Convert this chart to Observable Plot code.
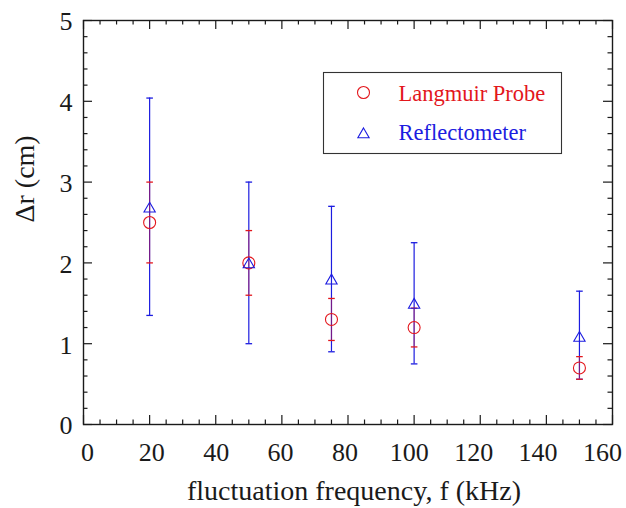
<!DOCTYPE html>
<html><head><meta charset="utf-8">
<script src="https://cdn.jsdelivr.net/npm/d3@7"></script>
<script src="https://cdn.jsdelivr.net/npm/@observablehq/plot@0.6"></script>
<style>body{margin:0;background:#fff} #chart{width:626px;height:508px}</style>
</head><body><div id="chart"></div>
<script>
// Data
const freq   = [20, 50, 75, 100, 150];          // kHz
const lpVal  = [2.50, 2.00, 1.30, 1.20, 0.70];  // Langmuir Probe Δr (cm)
const lpLo   = [2.00, 1.60, 1.04, 0.96, 0.56];
const lpHi   = [3.00, 2.40, 1.56, 1.44, 0.84];
const rfVal  = [2.67, 1.98, 1.78, 1.48, 1.07];  // Reflectometer Δr (cm)
const rfLo   = [1.35, 1.00, 0.90, 0.75, 0.56];
const rfHi   = [4.04, 3.00, 2.70, 2.25, 1.65];
const xTicks = [0, 20, 40, 60, 80, 100, 120, 140, 160];
const yTicks = [0, 1, 2, 3, 4, 5];
const seriesNames = ["Langmuir Probe", "Reflectometer"];
const xTitle = "fluctuation frequency, f (kHz)";
const yTitle = "Δr (cm)";

const RED = "#e3161c", BLUE = "#1c1ce0", INK = "#1a1a1a";
const serif = "Liberation Serif";
const W = 626, H = 508, ML = 83, MR = 14, MT = 20, MB = 84;
const PW = W - ML - MR, PH = H - MT - MB;

const rows = freq.map((f, i) => ({f, lp: lpVal[i], lpLo: lpLo[i], lpHi: lpHi[i], rf: rfVal[i], rfLo: rfLo[i], rfHi: rfHi[i]}));
const xMinor = d3.range(0, 161, 5).filter(v => v % 20 !== 0);
const yMinor = d3.range(0, 25).map(i => i * 0.2).filter(v => Math.abs(v - Math.round(v)) > 1e-6);

const cap = {draw(ctx) { ctx.moveTo(-3.3, 0); ctx.lineTo(3.3, 0); }};
const MAJ = 9, MIN = 4.5;
const T = {fontFamily: serif, lineAnchor: "middle", fill: INK};

const chart = Plot.plot({
  width: W, height: H,
  marginLeft: ML, marginRight: MR, marginTop: MT, marginBottom: MB,
  x: {domain: [0, 160], axis: null},
  y: {domain: [0, 5], axis: null},
  style: {fontFamily: serif, background: "white", color: INK},
  marks: [
    // inward ticks on all four sides
    Plot.tickX(xTicks, {x: d => d, insetTop: PH - MAJ, stroke: INK, strokeWidth: 1.2}),
    Plot.tickX(xMinor, {x: d => d, insetTop: PH - MIN, stroke: INK, strokeWidth: 1.2}),
    Plot.tickX(xTicks, {x: d => d, insetBottom: PH - MAJ, stroke: INK, strokeWidth: 1.2}),
    Plot.tickX(xMinor, {x: d => d, insetBottom: PH - MIN, stroke: INK, strokeWidth: 1.2}),
    Plot.tickY(yTicks, {y: d => d, insetRight: PW - MAJ, stroke: INK, strokeWidth: 1.2}),
    Plot.tickY(yMinor, {y: d => d, insetRight: PW - MIN, stroke: INK, strokeWidth: 1.2}),
    Plot.tickY(yTicks, {y: d => d, insetLeft: PW - MAJ, stroke: INK, strokeWidth: 1.2}),
    Plot.tickY(yMinor, {y: d => d, insetLeft: PW - MIN, stroke: INK, strokeWidth: 1.2}),
    Plot.frame({stroke: INK, strokeWidth: 1.4}),
    // tick labels (the reference's labels are set slightly tighter than its ticks)
    Plot.text(xTicks, {...T, x: d => d * 0.9735 + 1.2, frameAnchor: "bottom", dy: 28.5, text: d => String(d), fontSize: 26}),
    Plot.text(yTicks, {...T, y: d => d, frameAnchor: "left", dx: -11, dy: 1.5, textAnchor: "end", text: d => String(d), fontSize: 26}),
    // axis titles
    Plot.text([xTitle], {...T, frameAnchor: "bottom", dx: 6, dy: 67, text: d => d, fontSize: 28}),
    Plot.text([yTitle], {...T, frameAnchor: "left", dx: -58, rotate: -90, text: d => d, fontSize: 28}),
    // error bars
    Plot.ruleX(rows, {x: "f", y1: "rfLo", y2: "rfHi", stroke: BLUE, strokeWidth: 1.2}),
    Plot.dot(rows, {x: "f", y: "rfLo", symbol: cap, r: 3, fill: "none", stroke: BLUE, strokeWidth: 1.3}),
    Plot.dot(rows, {x: "f", y: "rfHi", symbol: cap, r: 3, fill: "none", stroke: BLUE, strokeWidth: 1.3}),
    Plot.ruleX(rows, {x: "f", y1: "lpLo", y2: "lpHi", stroke: RED, strokeWidth: 1.2, strokeOpacity: 0.45}),
    Plot.dot(rows, {x: "f", y: "lpLo", symbol: cap, r: 3, fill: "none", stroke: RED, strokeWidth: 1.3}),
    Plot.dot(rows, {x: "f", y: "lpHi", symbol: cap, r: 3, fill: "none", stroke: RED, strokeWidth: 1.3}),
    // markers
    Plot.dot(rows, {x: "f", y: "lp", r: 6, fill: "none", stroke: RED, strokeWidth: 1.1}),
    Plot.dot(rows, {x: "f", y: "rf", symbol: "triangle", r: 4.2, fill: "none", stroke: BLUE, strokeWidth: 1.1}),
    // legend
    Plot.frame({insetLeft: 240, insetRight: 51, insetTop: 52, insetBottom: 271, stroke: "#333", strokeWidth: 1.1}),
    Plot.dot([0], {frameAnchor: "top-left", dx: 280, dy: 72, r: 6, fill: "none", stroke: RED, strokeWidth: 1.1}),
    Plot.dot([0], {frameAnchor: "top-left", dx: 280, dy: 114, symbol: "triangle", r: 4.2, fill: "none", stroke: BLUE, strokeWidth: 1.1}),
    Plot.text([seriesNames[0]], {...T, frameAnchor: "top-left", dx: 315, dy: 73, textAnchor: "start", text: d => d, fontSize: 22.5, fill: RED}),
    Plot.text([seriesNames[1]], {...T, frameAnchor: "top-left", dx: 315, dy: 112, textAnchor: "start", text: d => d, fontSize: 22.5, fill: BLUE})
  ]
});
document.getElementById("chart").append(chart);
</script>
</body></html>
